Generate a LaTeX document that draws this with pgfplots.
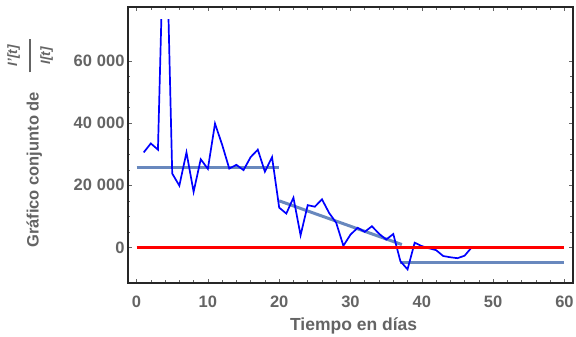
\documentclass[border=0pt]{standalone}
\usepackage{pgfplots}
\pgfplotsset{compat=1.18}
\usepackage{fontspec}
\setmainfont{Liberation Sans}
\definecolor{fitc}{RGB}{104,136,190}
\definecolor{lab}{RGB}{100,100,100}
\newcommand{\frc}{%
\hspace*{15pt}%
\makebox[33pt][l]{%
 \rlap{\raisebox{21.5pt}{\makebox[33pt]{\fontsize{13.5}{13.5}\selectfont\textit{I'[t]}}}}%
 \rlap{\raisebox{8pt}{\rule{33pt}{1.3pt}}}%
 \raisebox{-11.5pt}{\makebox[33pt]{\fontsize{13.5}{13.5}\selectfont\textit{I[t]}}}}}
\begin{document}
\begin{tikzpicture}
\useasboundingbox (-128pt,-54pt) rectangle (448pt,283pt);
\begin{axis}[
  at={(0,0)}, anchor=south west,
  scale only axis, width=445pt, height=276pt,
  xmin=-1.2, xmax=61.2, ymin=-11500, ymax=77500,
  xtick={0,10,...,60}, ytick={0,20000,40000,60000},
  yticklabels={0,20\hspace{0.3em}000,40\hspace{0.3em}000,60\hspace{0.3em}000},
  minor x tick num=4, minor y tick num=3,
  tick align=inside, major tick length=4pt, minor tick length=2.5pt,
  tick style={lab, line width=0.6pt},
  axis line style={line width=1.2pt, black!85},
  ticklabel style={font=\fontsize{16.5}{18}\selectfont\bfseries, text=lab},
  xticklabel style={yshift=-9pt},
  /pgf/number format/assume math mode=true,
  xlabel={Tiempo en días},
  xlabel style={at={(axis description cs:0.507,0)}, anchor=base, yshift=-48pt, font=\fontsize{17.5}{19}\selectfont\bfseries, text=lab},
  ylabel={Gráfico conjunto de \frc},
  ylabel style={at={(axis description cs:-0.2011,0.5055)}, anchor=base, font=\fontsize{16.5}{18}\selectfont\bfseries, text=lab},
]
\addplot[fitc, line width=3pt] coordinates {(0,25800) (20,25800)};
\addplot[fitc, line width=3pt] coordinates {(20,15000) (37.2,900)};
\addplot[fitc, line width=3pt] coordinates {(37,-5000) (60,-5000)};
\begin{scope}
\clip (axis cs:-1.2,-11500) rectangle (axis cs:61.2,73600);
\addplot[blue, line width=1.7pt] coordinates {
(1,30600) (2,33500) (3,31500) (4,120000) (5,23800) (6,19900) (7,30600)
(8,17900) (9,28400) (10,25300) (11,39900) (12,33100) (13,25400) (14,26600)
(15,24900) (16,29100) (17,31500) (18,24400) (19,29100) (20,12800) (21,10900)
(22,16000) (23,3900) (24,13600) (25,13100) (26,15500) (27,11100) (28,7900)
(29,500) (30,4100) (31,6300) (32,5000) (33,6800) (34,4400) (35,2500)
(36,4300) (37,-4500) (38,-7100) (39,1500) (40,400) (41,-300) (42,-900)
(43,-2800) (44,-3200) (45,-3500) (46,-2700) (47,0)};
\end{scope}
\addplot[red, line width=3.5pt] coordinates {(0,0) (60,0)};
\end{axis}
\end{tikzpicture}
\end{document}
